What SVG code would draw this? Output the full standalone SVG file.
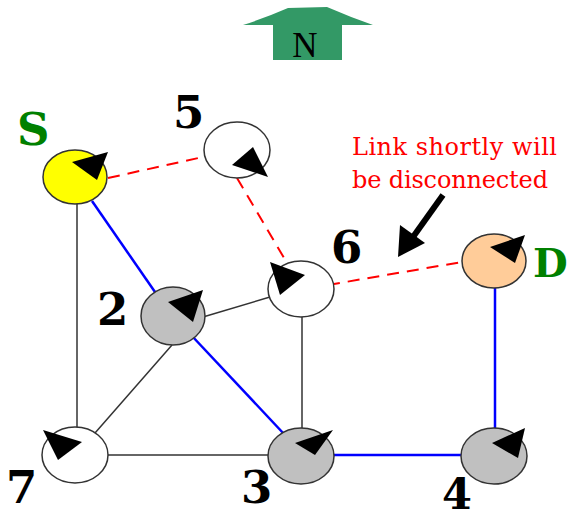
<svg xmlns="http://www.w3.org/2000/svg" width="570" height="520" viewBox="0 0 570 520">
<style>
.node{stroke:#333;stroke-width:1.5}
.white{fill:#fff}.grey{fill:#c0c0c0}.yellow{fill:#ffff00}.peach{fill:#ffcc99}
.tri{fill:#000}
.lbl{font-family:"DejaVu Serif","Liberation Serif",serif;font-weight:bold;font-size:45px;fill:#000}
.green{fill:#008000}
.blk{stroke:#333;stroke-width:1.5;fill:none}
.blue{stroke:#0000ff;stroke-width:2.5;fill:none}
.red{stroke:#ff0000;stroke-width:2;stroke-dasharray:12,8;fill:none}
.note{font-family:"DejaVu Serif","Liberation Serif",serif;font-size:24px;fill:#ff0000}
</style>
<rect width="570" height="520" fill="#fff"/>
<g id="north">
<path d="M243,25 Q265,18 288,8 L327,7 Q350,17 373,25 L342,25 L342,60 L273,60 L273,25 Z" fill="#339966"/>
<text x="305" y="57" text-anchor="middle" font-family="Liberation Serif,serif" font-size="35" fill="#000">N</text>
</g>
<g id="connectors">
<line class="blk" x1="77" y1="203" x2="77" y2="428"/>
<line class="blk" x1="203" y1="317" x2="270" y2="297"/>
<line class="blk" x1="172" y1="345" x2="95" y2="433"/>
<line class="blk" x1="302" y1="317" x2="302" y2="428"/>
<line class="blk" x1="108" y1="455" x2="270" y2="455"/>
<polyline class="blue" points="92,201 155,292"/>
<polyline class="blue" points="192,336 284,434"/>
<line class="blue" x1="315" y1="455" x2="462" y2="455"/>
<line class="blue" x1="495" y1="288" x2="495" y2="443"/>
<line class="red" x1="108" y1="178" x2="212" y2="155"/>
<line class="red" x1="237" y1="178" x2="287" y2="263"/>
<line class="red" x1="328" y1="285" x2="462" y2="262"/>
</g>
<g id="node-S">
<ellipse class="node yellow" cx="75" cy="177" rx="32" ry="27"/>
<polygon class="tri" points="108,152 72,162 97,180"/>
<text class="lbl green" x="17" y="145">S</text>
</g>
<g id="node-5">
<ellipse class="node white" cx="237" cy="150" rx="33" ry="28"/>
<polygon class="tri" points="268,177 232,165 253,147"/>
<text class="lbl" x="173" y="128">5</text>
</g>
<g id="node-6">
<ellipse class="node white" cx="301" cy="289" rx="33" ry="28"/>
<polygon class="tri" points="270,262 280,295 305,275"/>
<text class="lbl" x="331" y="263">6</text>
</g>
<g id="node-D">
<ellipse class="node peach" cx="494" cy="261" rx="32" ry="27"/>
<polygon class="tri" points="525,235 490,247 515,263"/>
<text class="lbl green" x="533" y="277" style="font-size:40px">D</text>
</g>
<g id="node-2">
<ellipse class="node grey" cx="173" cy="316" rx="32" ry="29"/>
<polygon class="tri" points="203,290 168,302 193,322"/>
<text class="lbl" x="97" y="325">2</text>
</g>
<g id="node-7">
<ellipse class="node white" cx="75" cy="455" rx="33" ry="28"/>
<polygon class="tri" points="43,430 58,460 82,442"/>
<text class="lbl" x="6" y="503">7</text>
</g>
<g id="node-3">
<ellipse class="node grey" cx="301" cy="456" rx="33" ry="28"/>
<polygon class="tri" points="333,430 295,443 315,455"/>
<text class="lbl" x="241" y="503">3</text>
</g>
<g id="node-4">
<ellipse class="node grey" cx="494" cy="456" rx="33" ry="28"/>
<polygon class="tri" points="525,428 492,443 518,458"/>
<text class="lbl" x="442" y="509" style="font-size:43px">4</text>
</g>
<g id="note">
<text class="note" x="352" y="155" textLength="205">Link shortly will</text>
<text class="note" x="352" y="188" textLength="196">be disconnected</text>
<line x1="443" y1="195" x2="413" y2="237" stroke="#000" stroke-width="6"/>
<polygon points="398,257 400,225 425,243" fill="#000"/>
</g>
</svg>
